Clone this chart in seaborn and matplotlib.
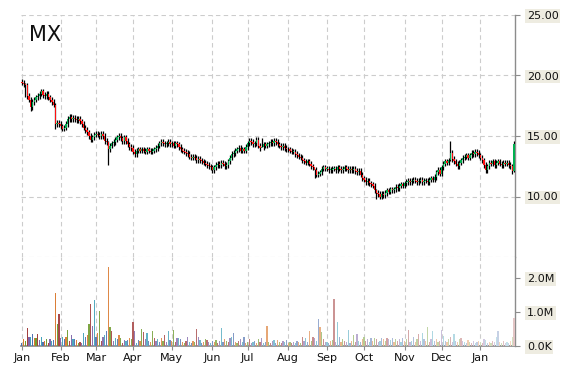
import numpy as np
import pandas as pd
import matplotlib
matplotlib.use("Agg")
import matplotlib.pyplot as plt
import matplotlib.colors as mcolors
import seaborn as sns

# ---------------- data ----------------
ticker = "MX"
start_date = "2013-01-02"
end_date = "2014-01-28"
first_open = 19.5

close_jan13 = [19.4, 19.3, 19.2, 18.3, 18.0, 17.4, 17.8, 18.0, 18.2, 18.3, 18.5, 18.7,
               18.4, 18.3, 18.5, 18.2, 18.0, 17.8, 17.6, 16.0, 16.1, 16.0]
close_feb13 = [15.8, 15.6, 15.7, 16.0, 16.4, 16.6, 16.4, 16.5, 16.4, 16.3, 16.4, 16.2,
               16.0, 15.7, 15.5, 15.3, 15.0, 14.7, 14.9, 15.1]
close_mar13 = [15.2, 15.1, 15.0, 15.2, 15.0, 14.6, 14.5, 13.9, 14.2, 14.4, 14.5, 14.7,
               14.9, 15.0, 14.8, 14.6, 14.9, 14.6, 14.3, 14.1, 14.0]
close_apr13 = [13.7, 13.5, 13.8, 13.9, 13.8, 13.9, 13.8, 13.7, 13.9, 13.8, 13.7, 13.8,
               13.9, 14.0, 14.2, 14.4, 14.5, 14.4, 14.3, 14.4, 14.5, 14.3]
close_may13 = [14.4, 14.2, 14.4, 14.3, 14.1, 13.9, 13.8, 13.7, 13.6, 13.5, 13.3, 13.2,
               13.3, 13.2, 13.0, 13.1, 13.0, 12.9, 12.8, 12.7, 12.6, 12.5, 12.4]
close_jun13 = [12.2, 12.4, 12.6, 12.7, 12.6, 12.8, 12.7, 12.5, 12.6, 12.9, 13.2, 13.5,
               13.6, 13.8, 13.9, 14.0, 13.8, 13.9, 13.8, 14.1]
close_jul13 = [14.4, 14.6, 14.5, 14.3, 14.4, 14.7, 14.2, 14.0, 14.1, 14.3, 14.2, 14.3,
               14.4, 14.5, 14.4, 14.6, 14.5, 14.3, 14.2, 14.1, 14.2, 14.0, 13.9]
close_aug13 = [13.9, 13.8, 13.7, 13.7, 13.5, 13.4, 13.3, 13.2, 13.0, 12.9, 12.8, 12.9,
               12.7, 12.5, 12.4, 12.2, 11.8, 11.9, 12.0, 12.3, 12.4, 12.3]
close_sep13 = [12.3, 12.2, 12.2, 12.3, 12.3, 12.2, 12.4, 12.3, 12.2, 12.3, 12.4, 12.3,
               12.2, 12.3, 12.2, 12.3, 12.1, 12.0, 12.1, 11.8, 11.5]
close_oct13 = [11.4, 11.2, 11.3, 11.1, 11.0, 10.9, 10.5, 10.3, 10.2, 10.0, 10.2, 10.1,
               10.3, 10.5, 10.4, 10.6, 10.5, 10.6, 10.8, 10.7, 10.9, 11.0, 10.9]
close_nov13 = [11.1, 11.2, 11.3, 11.2, 11.3, 11.4, 11.3, 11.2, 11.3, 11.4, 11.2, 11.3,
               11.3, 11.2, 11.4, 11.5, 11.4, 11.6, 12.0, 12.2, 11.9]
close_dec13 = [12.4, 12.7, 12.9, 12.8, 13.0, 13.6, 13.1, 12.9, 12.7, 12.5, 12.8, 13.0,
               13.2, 13.3, 13.4, 13.2, 13.4, 13.6, 13.5, 13.7, 13.6, 13.4]
close_jan14 = [13.2, 13.0, 12.6, 12.2, 12.5, 12.8, 12.7, 12.9, 12.6, 12.8, 12.9, 12.7,
               12.6, 12.8, 12.7, 12.8, 12.6, 12.5, 12.1, 14.3]

# volume in millions of shares
vol_jan13 = [0.1, 0.2, 0.15, 0.52, 0.27, 0.27, 0.34, 0.25, 0.23, 0.34, 0.18, 0.27,
             0.12, 0.15, 0.2, 0.1, 0.2, 0.15, 0.18, 1.56, 0.64, 0.93]
vol_feb13 = [0.25, 0.27, 0.22, 0.27, 0.47, 0.15, 0.31, 0.22, 0.2, 0.18, 0.1, 0.12,
             0.1, 0.37, 0.27, 0.31, 0.64, 1.25, 0.6, 1.34]
vol_mar13 = [0.27, 0.37, 1.03, 0.15, 0.27, 0.31, 0.44, 2.32, 0.57, 0.44, 0.15, 0.25,
             0.22, 0.31, 0.25, 0.1, 0.18, 0.15, 0.18, 0.25, 0.2]
vol_apr13 = [0.7, 0.44, 0.1, 0.18, 0.15, 0.5, 0.4, 0.2, 0.37, 0.15, 0.12, 0.44,
             0.25, 0.15, 0.2, 0.12, 0.25, 0.15, 0.31, 0.12, 0.44, 0.18]
vol_may13 = [0.15, 0.47, 0.12, 0.25, 0.25, 0.2, 0.12, 0.1, 0.15, 0.27, 0.12, 0.1,
             0.15, 0.12, 0.5, 0.27, 0.18, 0.1, 0.12, 0.22, 0.18, 0.12, 0.1]
vol_jun13 = [0.15, 0.12, 0.18, 0.1, 0.15, 0.54, 0.12, 0.2, 0.15, 0.12, 0.25, 0.27,
             0.37, 0.12, 0.1, 0.15, 0.22, 0.12, 0.27, 0.1]
vol_jul13 = [0.12, 0.2, 0.1, 0.12, 0.15, 0.1, 0.22, 0.12, 0.25, 0.1, 0.12, 0.6,
             0.12, 0.1, 0.15, 0.18, 0.1, 0.18, 0.12, 0.1, 0.15, 0.12, 0.18]
vol_aug13 = [0.1, 0.12, 0.1, 0.12, 0.1, 0.15, 0.12, 0.1, 0.27, 0.15, 0.25, 0.12,
             0.44, 0.15, 0.27, 0.25, 0.15, 0.78, 0.57, 0.41, 0.22, 0.12]
vol_sep13 = [0.12, 0.1, 0.15, 0.18, 1.39, 0.12, 0.7, 0.27, 0.12, 0.22, 0.15, 0.12,
             0.47, 0.1, 0.15, 0.31, 0.12, 0.34, 0.15, 0.12, 0.22]
vol_oct13 = [0.27, 0.15, 0.2, 0.12, 0.25, 0.15, 0.25, 0.2, 0.12, 0.15, 0.25, 0.2,
             0.15, 0.25, 0.22, 0.18, 0.25, 0.12, 0.2, 0.15, 0.2, 0.12, 0.25]
vol_nov13 = [0.15, 0.2, 0.47, 0.12, 0.15, 0.27, 0.12, 0.2, 0.34, 0.15, 0.37, 0.2,
             0.15, 0.57, 0.12, 0.2, 0.44, 0.15, 0.2, 0.12, 0.15]
vol_dec13 = [0.47, 0.29, 0.15, 0.12, 0.2, 0.27, 0.12, 0.34, 0.15, 0.12, 0.2, 0.25,
             0.15, 0.12, 0.1, 0.18, 0.12, 0.1, 0.15, 0.1, 0.12, 0.15]
vol_jan14 = [0.12, 0.1, 0.22, 0.18, 0.1, 0.12, 0.1, 0.15, 0.12, 0.27, 0.44, 0.12,
             0.1, 0.15, 0.1, 0.12, 0.1, 0.15, 0.27, 0.83]

# notable intraday extremes (date: (high, low))
wick_extremes = {
    "2013-01-04": (19.4, 18.2),
    "2013-01-09": (18.2, 17.1),
    "2013-01-29": (17.7, 15.6),
    "2013-03-12": (14.6, 12.6),
    "2013-07-11": (14.8, 14.1),
    "2013-08-22": (12.3, 11.5),
    "2013-10-10": (10.6, 9.8),
    "2013-12-09": (14.6, 12.9),
    "2014-01-28": (14.6, 12.0),
}

price_ticks = [10, 15, 20, 25]
vol_ticks = [0.0, 1.0, 2.0]
vol_tick_labels = ["0.0K", "1.0M", "2.0M"]

# ---------------- build frame ----------------
closes = (close_jan13 + close_feb13 + close_mar13 + close_apr13 + close_may13 + close_jun13 +
          close_jul13 + close_aug13 + close_sep13 + close_oct13 + close_nov13 + close_dec13 +
          close_jan14)
volumes = (vol_jan13 + vol_feb13 + vol_mar13 + vol_apr13 + vol_may13 + vol_jun13 +
           vol_jul13 + vol_aug13 + vol_sep13 + vol_oct13 + vol_nov13 + vol_dec13 + vol_jan14)
dates = pd.bdate_range(start_date, end_date)
n = min(len(dates), len(closes), len(volumes))
df = pd.DataFrame({"date": dates[:n], "close": closes[:n], "volume": volumes[:n]})
df["open"] = df["close"].shift(1).fillna(first_open)
pad = 0.22
df["high"] = df[["open", "close"]].max(axis=1) + pad
df["low"] = df[["open", "close"]].min(axis=1) - pad
for d, (h, l) in wick_extremes.items():
    m = df["date"] == pd.Timestamp(d)
    df.loc[m, "high"] = h
    df.loc[m, "low"] = l
df["x"] = np.arange(n)

# ---------------- style ----------------
sns.set_theme(style="white")
plt.rcParams["font.family"] = ["DejaVu Sans"]

fig = plt.figure(figsize=(5.7, 3.7), dpi=100)
W, H = 570.0, 370.0
left, right = 21, 515
ax_p = fig.add_axes([left / W, 1 - 257 / H, (right - left) / W, (257 - 15) / H])
ax_v = fig.add_axes([left / W, 1 - 346 / H, (right - left) / W, (346 - 257) / H], sharex=ax_p)

grid_kw = dict(color="#cccccc", lw=0.8, ls=(0, (4, 3)), zorder=0)
month_pos = df.index[df["date"].dt.month != df["date"].shift(1).dt.month].tolist()
month_lbl = [df["date"][i].strftime("%b") for i in month_pos]

# candles
up = df["close"] >= df["open"]
ax_p.vlines(df["x"], df["low"], df["high"], color="black", lw=0.9, zorder=3)
body = (df["close"] - df["open"]).abs().clip(lower=0.06)
ax_p.bar(df["x"], body, bottom=df[["open", "close"]].min(axis=1), width=0.75,
         color=np.where(up, "#00b050", "#ff1010"), zorder=4, linewidth=0)

# volume bars
base = ["#4f6fae", "#d9782d", "#6f9b2f", "#a23e3e", "#7d63a8", "#3fa0b8"]
pal = sns.color_palette(base)
vcols = []
for i in range(n):
    c = np.array(mcolors.to_rgb(pal[i % len(pal)]))
    t = 0.7 * i / (n - 1)
    vcols.append(tuple(c * (1 - t) + t))
ax_v.bar(df["x"], df["volume"], width=0.7, color=vcols, linewidth=0, zorder=3)

# grids
for xp in month_pos:
    ax_p.axvline(xp, **grid_kw)
    ax_v.axvline(xp, **grid_kw)
for yp in price_ticks:
    ax_p.axhline(yp, **grid_kw)
ax_p.axhline(5, **grid_kw)

ax_p.set_xlim(-0.5, n - 0.4)
ax_p.set_ylim(5, 25)
ax_v.set_ylim(0, 89 / 34.0)

spine_c = "#8c8c8c"
for ax in (ax_p, ax_v):
    for s in ("left", "top", "bottom"):
        ax.spines[s].set_visible(False)
    ax.spines["right"].set_color(spine_c)
    ax.spines["right"].set_linewidth(1.0)
    ax.yaxis.tick_right()
    ax.tick_params(axis="y", which="both", length=3.6, width=0.8, color=spine_c,
                   pad=5, labelsize=8, labelcolor="#111111")
    ax.set_xlabel("")
    ax.set_ylabel("")
ax_v.spines["bottom"].set_visible(True)
ax_v.spines["bottom"].set_color(spine_c)

ax_p.set_yticks(price_ticks)
ax_p.set_yticklabels([f"{v:.2f}" for v in price_ticks])
ax_v.set_yticks(vol_ticks)
ax_v.set_yticklabels(vol_tick_labels)
for ax in (ax_p, ax_v):
    for lab in ax.get_yticklabels():
        lab.set_bbox(dict(facecolor="#eeece1", edgecolor="none", pad=1.2))

ax_p.tick_params(axis="x", bottom=False, labelbottom=False)
ax_v.set_xticks(month_pos)
ax_v.set_xticklabels(month_lbl)
ax_v.tick_params(axis="x", bottom=True, length=3, width=0.8, color=spine_c, pad=2,
                 labelsize=8, labelcolor="#111111")

ax_p.text(29 / W, 1 - 25 / H, ticker, transform=fig.transFigure, fontsize=15,
          va="top", ha="left", color="#111111")

fig.savefig("out.png", dpi=100)
